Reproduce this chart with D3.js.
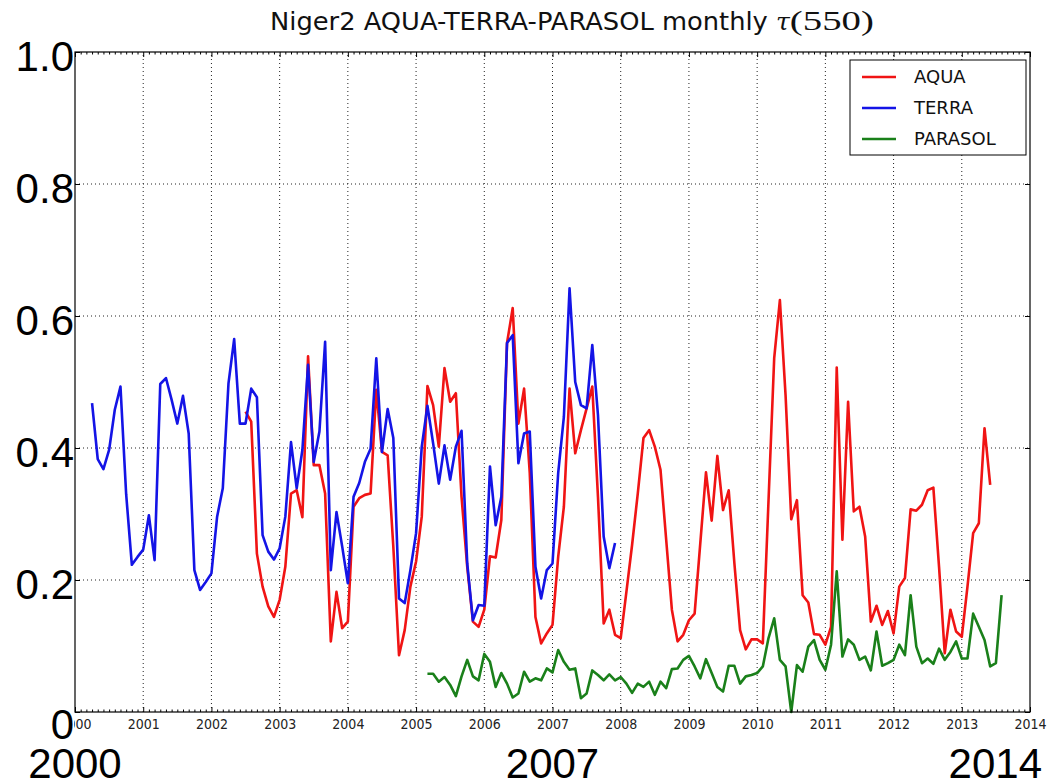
<!DOCTYPE html>
<html>
<head>
<meta charset="utf-8">
<script src="https://cdn.jsdelivr.net/npm/d3@7"></script>
<style>
  body { margin: 0; background: #fff; }
  svg { display: block; }
</style>
</head>
<body>
<div id="d3-container"></div>
<script>
/* CONSTANTS AND GLOBALS */
const width = 1047,
  height = 784,
  margin = { top: 52, bottom: 72, left: 75, right: 17 };

// monthly tau(550) values, each series starts on the month given below
const terraStart = [2000, 4];
const terra = [
  0.468, 0.383, 0.368, 0.397, 0.458, 0.493, 0.33, 0.223, 0.235,
  0.246, 0.298, 0.230, 0.497, 0.506, 0.473, 0.437, 0.479, 0.422, 0.215, 0.185, 0.197,
  0.210, 0.296, 0.339, 0.498, 0.565, 0.437, 0.437, 0.490, 0.477, 0.268, 0.243, 0.231,
  0.248, 0.296, 0.409, 0.339, 0.397, 0.526, 0.379, 0.425, 0.561, 0.215, 0.303, 0.251,
  0.195, 0.326, 0.347, 0.379, 0.399, 0.536, 0.394, 0.459, 0.415, 0.172, 0.165, 0.215,
  0.271, 0.402, 0.464, 0.407, 0.346, 0.404, 0.352, 0.402, 0.426, 0.225, 0.139, 0.162,
  0.161, 0.372, 0.283, 0.326, 0.559, 0.571, 0.377, 0.422, 0.425, 0.220, 0.172, 0.215,
  0.225, 0.362, 0.447, 0.642, 0.500, 0.465, 0.460, 0.556, 0.45, 0.266, 0.218, 0.256
];

const aquaStart = [2002, 7];
const aqua = [
  0.455, 0.440, 0.240, 0.190, 0.160, 0.144,
  0.170, 0.220, 0.331, 0.336, 0.295, 0.539, 0.374, 0.374, 0.331, 0.107, 0.182, 0.127,
  0.137, 0.311, 0.324, 0.329, 0.331, 0.488, 0.394, 0.389, 0.250, 0.086, 0.124, 0.190,
  0.228, 0.296, 0.494, 0.465, 0.402, 0.521, 0.470, 0.483, 0.326, 0.220, 0.137, 0.129,
  0.155, 0.236, 0.234, 0.291, 0.559, 0.612, 0.437, 0.490, 0.362, 0.144, 0.104, 0.119,
  0.132, 0.235, 0.311, 0.490, 0.392, 0.427, 0.460, 0.493, 0.326, 0.134, 0.155, 0.117,
  0.112, 0.182, 0.253, 0.331, 0.415, 0.427, 0.402, 0.367, 0.261, 0.155, 0.107, 0.117,
  0.139, 0.149, 0.256, 0.363, 0.290, 0.388, 0.306, 0.336, 0.225, 0.124, 0.095, 0.110,
  0.110, 0.104, 0.320, 0.536, 0.624, 0.480, 0.292, 0.321, 0.177, 0.166, 0.118, 0.117,
  0.102, 0.129, 0.522, 0.261, 0.470, 0.304, 0.311, 0.266, 0.137, 0.161, 0.132, 0.153,
  0.119, 0.190, 0.203, 0.307, 0.305, 0.314, 0.336, 0.340, 0.220, 0.089, 0.155, 0.122,
  0.114, 0.190, 0.271, 0.286, 0.430, 0.344
];

const parasolStart = [2005, 3];
const parasol = [
  0.058, 0.058, 0.046, 0.053, 0.041, 0.024, 0.054, 0.079, 0.054, 0.048,
  0.088, 0.076, 0.038, 0.059, 0.043, 0.022, 0.028, 0.061, 0.046, 0.051, 0.048, 0.066,
  0.060, 0.094, 0.076, 0.064, 0.066, 0.021, 0.028, 0.063, 0.056, 0.048, 0.057, 0.048,
  0.053, 0.043, 0.029, 0.043, 0.038, 0.046, 0.026, 0.046, 0.036, 0.065, 0.066, 0.079,
  0.085, 0.069, 0.051, 0.080, 0.059, 0.038, 0.031, 0.070, 0.070, 0.043, 0.054, 0.056,
  0.059, 0.069, 0.112, 0.142, 0.079, 0.069, 0.000, 0.071, 0.061, 0.099, 0.109, 0.079,
  0.064, 0.102, 0.213, 0.084, 0.110, 0.102, 0.079, 0.084, 0.063, 0.122, 0.070, 0.074,
  0.079, 0.102, 0.086, 0.177, 0.099, 0.074, 0.081, 0.073, 0.096, 0.079, 0.091, 0.107,
  0.081, 0.081, 0.149, 0.129, 0.109, 0.069, 0.074, 0.177
];

const seriesNames = ["AQUA", "TERRA", "PARASOL"];
const seriesColors = ["#f01414", "#1414e6", "#1a801a"];

const years = d3.range(2000, 2015);
const yTicks = [0, 0.2, 0.4, 0.6, 0.8, 1.0];
const bigYLabels = ["1.0", "0.8", "0.6", "0.4", "0.2", "0"];
const bigYears = [2000, 2007, 2014];

let svg;
let xScale;
let yScale;

init();

// month index -> decimal year
function toPoints(start, values) {
  return values.map((v, i) => ({ t: start[0] + (start[1] - 1 + i) / 12, v: v }));
}

function init() {
  xScale = d3.scaleLinear()
    .domain([2000, 2014])
    .range([margin.left, width - margin.right]);

  yScale = d3.scaleLinear()
    .domain([0, 1])
    .range([height - margin.bottom, margin.top]);

  svg = d3.select("#d3-container")
    .append("svg")
    .attr("width", width)
    .attr("height", height);

  const x0 = xScale.range()[0], x1 = xScale.range()[1];
  const y0 = yScale.range()[0], y1 = yScale.range()[1];

  // + GRID (dotted)
  const grid = svg.append("g").attr("stroke", "#222").attr("stroke-dasharray", "1,3").attr("stroke-width", 1);
  grid.selectAll(".vgrid")
    .data(years.slice(1, -1))
    .join("line")
    .attr("x1", d => xScale(d)).attr("x2", d => xScale(d))
    .attr("y1", y0).attr("y2", y1);
  grid.selectAll(".hgrid")
    .data(yTicks.slice(1, -1))
    .join("line")
    .attr("x1", x0).attr("x2", x1)
    .attr("y1", d => yScale(d)).attr("y2", d => yScale(d));

  // + LINES
  const line = d3.line().x(d => xScale(d.t)).y(d => yScale(d.v));
  const allSeries = [
    toPoints(aquaStart, aqua),
    toPoints(terraStart, terra),
    toPoints(parasolStart, parasol)
  ];
  svg.append("g")
    .selectAll("path")
    .data(allSeries)
    .join("path")
    .attr("fill", "none")
    .attr("stroke", (d, i) => seriesColors[i])
    .attr("stroke-width", 2.6)
    .attr("stroke-linejoin", "round")
    .attr("d", line);

  // + AXES (matplotlib style: inward ticks on all four sides)
  const months = d3.range(2000, 2014, 1 / 12).filter(m => Math.abs(m - Math.round(m)) > 0.01);

  svg.append("g")
    .attr("transform", `translate(0,${y0})`)
    .call(d3.axisBottom(xScale).tickValues(months).tickSize(-2.5).tickFormat(""))
    .call(g => g.select(".domain").remove());
  svg.append("g")
    .attr("transform", `translate(0,${y1})`)
    .call(d3.axisTop(xScale).tickValues(months).tickSize(-2.5).tickFormat(""))
    .call(g => g.select(".domain").remove());
  svg.append("g")
    .attr("transform", `translate(0,${y1})`)
    .call(d3.axisTop(xScale).tickValues(years).tickSize(-5).tickFormat(""))
    .call(g => g.select(".domain").remove());

  const xAxis = svg.append("g")
    .attr("class", "axis x-axis")
    .attr("transform", `translate(0,${y0})`)
    .call(d3.axisBottom(xScale).tickValues(years).tickFormat(d3.format("d")).tickSize(-5).tickPadding(7));
  xAxis.select(".domain").remove();
  xAxis.selectAll("text")
    .attr("font-family", "'DejaVu Sans', sans-serif")
    .attr("font-stretch", "condensed")
    .attr("font-size", 14)
    .attr("fill", "#222");

  svg.append("g")
    .attr("transform", `translate(${x0},0)`)
    .call(d3.axisLeft(yScale).tickValues(yTicks).tickSize(-5).tickFormat(""))
    .call(g => g.select(".domain").remove());
  svg.append("g")
    .attr("transform", `translate(${x1},0)`)
    .call(d3.axisRight(yScale).tickValues(yTicks).tickSize(-5).tickFormat(""))
    .call(g => g.select(".domain").remove());

  svg.selectAll(".tick line").attr("stroke", "#000");

  // frame
  svg.append("rect")
    .attr("x", x0).attr("y", y1)
    .attr("width", x1 - x0).attr("height", y0 - y1)
    .attr("fill", "none").attr("stroke", "#000").attr("stroke-width", 1.2);

  // + TITLE
  const title = svg.append("text")
    .attr("x", 270).attr("y", 30)
    .attr("font-family", "'DejaVu Sans', sans-serif")
    .attr("font-size", 25)
    .attr("fill", "#111");
  title.append("tspan")
    .attr("textLength", 506)
    .attr("lengthAdjust", "spacingAndGlyphs")
    .text("Niger2 AQUA-TERRA-PARASOL monthly ");
  title.append("tspan")
    .attr("font-family", "'DejaVu Serif', serif")
    .attr("font-style", "italic")
    .attr("font-size", 25)
    .text("τ");
  title.append("tspan")
    .attr("font-family", "'Liberation Serif', serif")
    .attr("font-size", 28)
    .attr("textLength", 84)
    .attr("lengthAdjust", "spacingAndGlyphs")
    .text("(550)");

  // + LEGEND
  const legend = svg.append("g").attr("transform", "translate(850,60)");
  legend.append("rect")
    .attr("width", 176).attr("height", 95)
    .attr("fill", "#fff").attr("stroke", "#000").attr("stroke-width", 1);
  const item = legend.selectAll(".item")
    .data(seriesNames)
    .join("g")
    .attr("transform", (d, i) => `translate(0,${17 + i * 31})`);
  item.append("line")
    .attr("x1", 12).attr("x2", 46)
    .attr("stroke", (d, i) => seriesColors[i])
    .attr("stroke-width", 2.6);
  item.append("text")
    .attr("x", 64).attr("dy", "0.36em")
    .attr("font-family", "'DejaVu Sans', sans-serif")
    .attr("font-size", 18)
    .attr("fill", "#111")
    .text(d => d);

  // + BIG OVERLAY LABELS (white backed)
  const big = svg.append("g")
    .attr("font-family", "'Liberation Sans', Arial, sans-serif")
    .attr("font-size", 42)
    .attr("fill", "#000");

  big.selectAll(".ylab")
    .data(bigYLabels)
    .join("text")
    .attr("class", "ylab")
    .attr("text-anchor", "end")
    .attr("x", 74)
    .attr("y", d => yScale(+d) + (+d === 0 ? 12 : 4))
    .attr("dy", "0.35em")
    .text(d => d);

  big.selectAll(".xlab")
    .data(bigYears)
    .join("text")
    .attr("class", "xlab")
    .attr("text-anchor", (d, i) => i === bigYears.length - 1 ? "end" : "middle")
    .attr("x", (d, i) => i === bigYears.length - 1 ? width - 5 : xScale(d))
    .attr("y", 778)
    .text(d => d);

  // white box behind the big labels
  big.selectAll("text").each(function() {
    const b = this.getBBox();
    big.insert("rect", () => this)
      .attr("x", b.x).attr("y", b.y + 6)
      .attr("width", b.width).attr("height", b.height - 8)
      .attr("fill", "#fff");
  });
}
</script>
</body>
</html>
